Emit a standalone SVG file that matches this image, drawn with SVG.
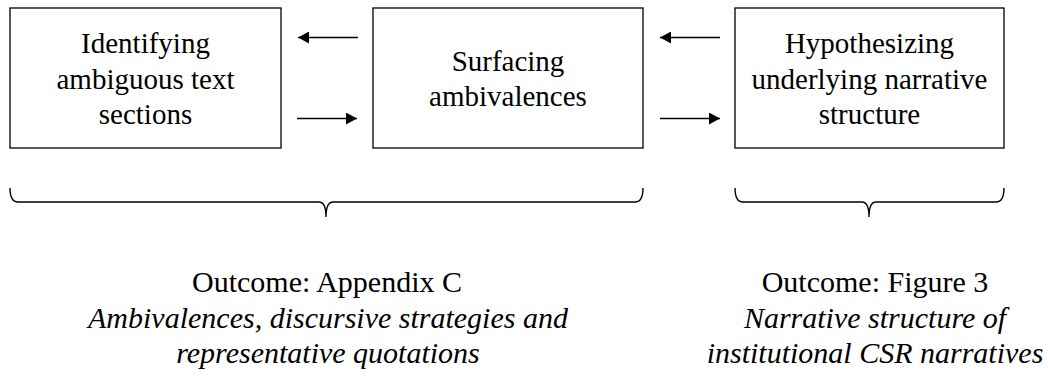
<svg xmlns="http://www.w3.org/2000/svg" width="1048" height="387" viewBox="0 0 1048 387">
<defs>
<style>
.box{fill:#fff;stroke:#000;stroke-width:1.3}
.t{font-size:29px;fill:#000;text-anchor:middle}
.o{font-size:30px}
.i{font-style:italic}
.c{fill:none;stroke:#000;stroke-width:1.4}
</style>
<marker id="ah" viewBox="0 0 11 12" refX="11" refY="6" markerWidth="11" markerHeight="12" markerUnits="userSpaceOnUse" orient="auto">
<path d="M0,0 L11,6 L0,12 Z" fill="#000"/>
</marker>
</defs>
<rect width="1048" height="387" fill="#fff"/>
<g font-family="Liberation Serif, Tinos, Times New Roman, Times, serif">
<g id="node1">
<rect class="box" x="10" y="8" width="271" height="140"/>
<text class="t" x="145.5" y="53">Identifying</text>
<text class="t" x="145.5" y="88.5">ambiguous text</text>
<text class="t" x="145.5" y="124">sections</text>
</g>
<g id="node2">
<rect class="box" x="373" y="8" width="270" height="140"/>
<text class="t" x="508" y="71">Surfacing</text>
<text class="t" x="508" y="106">ambivalences</text>
</g>
<g id="node3">
<rect class="box" x="735" y="8" width="269" height="140"/>
<text class="t" x="869.5" y="53">Hypothesizing</text>
<text class="t" x="869.5" y="88.5">underlying narrative</text>
<text class="t" x="869.5" y="124">structure</text>
</g>
<g id="connectors">
<line class="c" x1="358" y1="37.5" x2="298" y2="37.5" marker-end="url(#ah)"/>
<line class="c" x1="297" y1="118.5" x2="357" y2="118.5" marker-end="url(#ah)"/>
<line class="c" x1="720" y1="37.5" x2="660" y2="37.5" marker-end="url(#ah)"/>
<line class="c" x1="660" y1="118.5" x2="720" y2="118.5" marker-end="url(#ah)"/>
</g>
<g id="brace1">
<path class="c" d="M10,188 Q10,202 18,202 H319 Q326,202 326,217 Q326,202 333,202 H635 Q643,202 643,188"/>
</g>
<g id="brace2">
<path class="c" d="M735,188 Q735,202 743,202 H862 Q869,202 869,217 Q869,202 876,202 H996 Q1004,202 1004,188"/>
</g>
<g id="outcome1">
<text class="t o" x="327" y="292">Outcome: Appendix C</text>
<text class="t o i" x="328" y="328">Ambivalences, discursive strategies and</text>
<text class="t o i" x="328" y="363">representative quotations</text>
</g>
<g id="outcome2">
<text class="t o" x="875" y="292">Outcome: Figure 3</text>
<text class="t o i" x="875" y="328">Narrative structure of</text>
<text class="t o i" x="875" y="363">institutional CSR narratives</text>
</g>
</g>
</svg>
